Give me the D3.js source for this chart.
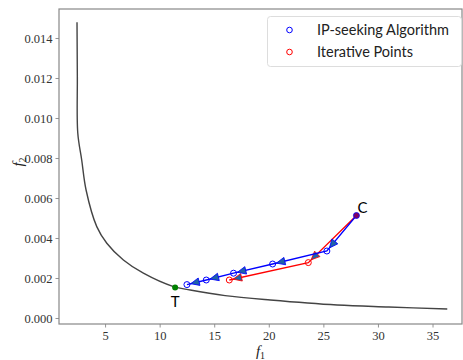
<!DOCTYPE html>
<html>
<head>
<meta charset="utf-8">
<script src="https://cdn.jsdelivr.net/npm/d3@7"></script>
<style>
    body { margin: 0; background: #fff; }
    .tick text { font-family: "Liberation Serif", serif; font-size: 12.5px; fill: #333; }
    .legend text { font-family: "Lato", sans-serif; font-size: 14.5px; fill: #222; }
</style>
</head>
<body>
<div id="chart"></div>
<script>
// Pareto front
const frontF1 = [2.43, 2.46, 2.50, 2.86, 3.26, 4.24, 5.16, 6.68, 8.51, 11.27, 12.8, 16.0, 20.14, 26.26, 31.0, 36.35];
const frontF2 = [0.01479, 0.01207, 0.00925, 0.0079, 0.0064, 0.00457, 0.00374, 0.0029, 0.00224, 0.00157, 0.0014, 0.00112, 0.0009, 0.00065, 0.00055, 0.00045];

// IP-seeking algorithm path (starts at C)
const ipF1 = [28.03, 25.32, 20.35, 16.77, 14.27, 12.50];
const ipF2 = [0.005125, 0.00335, 0.0027, 0.00224, 0.0019, 0.00167];

// iterative points path (starts at C)
const iterF1 = [28.03, 23.62, 16.38];
const iterF2 = [0.005125, 0.00277, 0.0019];

const pointT = {f1: 11.42, f2: 0.00153, label: 'T'};
const pointC = {f1: 28.03, f2: 0.005125, label: 'C'};

const xTicks = [5, 10, 15, 20, 25, 30, 35];
const yTicks = [0, 0.002, 0.004, 0.006, 0.008, 0.010, 0.012, 0.014];
const legendLabels = ['IP-seeking Algorithm', 'Iterative Points'];
const legendColors = ['blue', 'red'];

const width = 463, height = 360;
const margin = {top: 9, right: 1, bottom: 36, left: 59};

const svg = d3.select('#chart').append('svg')
    .attr('width', width)
    .attr('height', height);

const xScale = d3.scaleLinear()
    .domain([0.78, 37.7])
    .range([margin.left, width - margin.right]);
const yScale = d3.scaleLinear()
    .domain([-0.0003, 0.01545])
    .range([height - margin.bottom, margin.top]);

// axes
const xAxis = d3.axisBottom(xScale).tickValues(xTicks).tickSize(3.5).tickPadding(4).tickFormat(d3.format('d'));
const yAxis = d3.axisLeft(yScale).tickValues(yTicks).tickSize(3.5).tickPadding(3).tickFormat(d3.format('.3f'));

const gx = svg.append('g')
    .attr('transform', `translate(0, ${height - margin.bottom})`)
    .call(xAxis);
const gy = svg.append('g')
    .attr('transform', `translate(${margin.left}, 0)`)
    .call(yAxis);

gx.select('.domain').remove();
gy.select('.domain').remove();
svg.selectAll('.tick line').attr('stroke', '#888').attr('stroke-width', 0.9);
gx.selectAll('.tick text').attr('font-size', 14);

// frame
svg.append('rect')
    .attr('x', margin.left)
    .attr('y', margin.top)
    .attr('width', width - margin.right - margin.left)
    .attr('height', height - margin.bottom - margin.top)
    .attr('fill', 'none')
    .attr('stroke', '#888')
    .attr('stroke-width', 1.2);

// axis labels
svg.append('text')
    .attr('x', (margin.left + width - margin.right) / 2)
    .attr('y', 356)
    .attr('text-anchor', 'middle')
    .attr('font-family', '"Liberation Serif", serif')
    .attr('font-size', 15)
    .attr('fill', '#222')
    .html('<tspan font-style="italic">f</tspan><tspan font-size="10" dy="3">1</tspan>');

svg.append('text')
    .attr('transform', 'translate(23, 162) rotate(-90)')
    .attr('text-anchor', 'middle')
    .attr('font-family', '"Liberation Serif", serif')
    .attr('font-size', 15)
    .attr('fill', '#222')
    .html('<tspan font-style="italic">f</tspan><tspan font-size="10" dy="3">2</tspan>');

// pareto front
const front = frontF1.map((d, i) => [d, frontF2[i]]);
svg.append('path')
    .datum(front)
    .attr('d', d3.line().x(d => xScale(d[0])).y(d => yScale(d[1])).curve(d3.curveCatmullRom))
    .attr('fill', 'none')
    .attr('stroke', '#444')
    .attr('stroke-width', 1.4);

// draw a path with circles and arrow heads
function drawPath(f1s, f2s, color, arrowFill) {
    const pts = f1s.map((d, i) => [xScale(d), yScale(f2s[i])]);
    svg.append('path')
        .datum(pts)
        .attr('d', d3.line())
        .attr('fill', 'none')
        .attr('stroke', color)
        .attr('stroke-width', 1.3);

    // arrow heads pointing to the next point
    for (let i = 0; i < pts.length - 1; i++) {
        const [x0, y0] = pts[i], [x1, y1] = pts[i + 1];
        const ang = Math.atan2(y1 - y0, x1 - x0) * 180 / Math.PI;
        svg.append('path')
            .attr('d', 'M0,0 L-8.5,-3.8 L-8.5,3.8 Z')
            .attr('transform', `translate(${x1}, ${y1}) rotate(${ang}) translate(-4, 0)`)
            .attr('fill', arrowFill)
            .attr('stroke', color)
            .attr('stroke-width', 0.8);
    }

    svg.selectAll(null)
        .data(pts.slice(1))
        .join('circle')
        .attr('cx', d => d[0])
        .attr('cy', d => d[1])
        .attr('r', 3)
        .attr('fill', 'none')
        .attr('stroke', color)
        .attr('stroke-width', 1);
}

drawPath(iterF1, iterF2, 'red', '#1f63a8');
drawPath(ipF1, ipF2, 'blue', '#1f63a8');

// special points
svg.append('circle')
    .attr('cx', xScale(pointT.f1))
    .attr('cy', yScale(pointT.f2))
    .attr('r', 3)
    .attr('fill', 'green');
svg.append('text')
    .attr('x', xScale(pointT.f1))
    .attr('y', yScale(pointT.f2) + 20)
    .attr('text-anchor', 'middle')
    .attr('font-family', '"Lato", sans-serif')
    .attr('font-size', 15)
    .text(pointT.label);

svg.append('circle')
    .attr('cx', xScale(pointC.f1))
    .attr('cy', yScale(pointC.f2))
    .attr('r', 3)
    .attr('fill', '#800060')
    .attr('stroke', 'blue')
    .attr('stroke-width', 0.8);
svg.append('text')
    .attr('x', xScale(pointC.f1) + 1)
    .attr('y', yScale(pointC.f2) - 3)
    .attr('font-family', '"Lato", sans-serif')
    .attr('font-size', 15)
    .text(pointC.label);

// legend
const legend = svg.append('g').attr('class', 'legend');
legend.append('rect')
    .attr('x', 267.5)
    .attr('y', 16.5)
    .attr('width', 194)
    .attr('height', 50)
    .attr('rx', 3)
    .attr('fill', 'white')
    .attr('fill-opacity', 0.8)
    .attr('stroke', '#ddd');
legendLabels.forEach((label, i) => {
    legend.append('circle')
        .attr('cx', 289.5)
        .attr('cy', 30 + i * 22)
        .attr('r', 2.8)
        .attr('fill', 'none')
        .attr('stroke', legendColors[i])
        .attr('stroke-width', 1);
    legend.append('text')
        .attr('x', 317)
        .attr('y', 35 + i * 22)
        .text(label);
});
</script>
</body>
</html>
